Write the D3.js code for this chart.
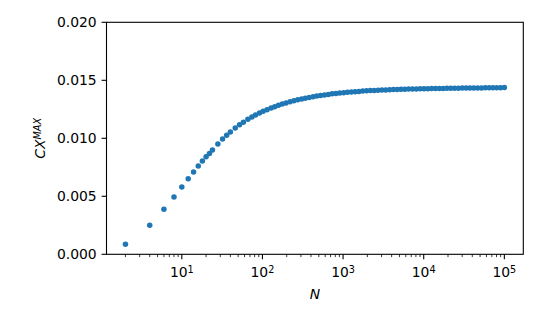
<!DOCTYPE html>
<html>
<head>
    <title></title>
    <meta charset="utf-8" />
    <script src="https://cdn.jsdelivr.net/npm/d3@7"></script>
    <style>
        body { margin: 0; background: #fff; }
        text { font-family: "DejaVu Sans", sans-serif; font-size: 13.9px; fill: #000; }
        .dot { fill: #1f77b4; }
    </style>
</head>
<body>
    <script>

        // system size N and measured CX^MAX
        var sizes = [2, 4, 6, 8, 10, 12, 14, 16, 18, 20, 22, 24, 28, 32, 36, 40, 46, 52, 58, 66,
            74, 82, 92, 102, 114, 128, 142, 158, 176, 196, 220, 246, 274, 306, 340, 380, 424, 472, 526, 588,
            656, 732, 816, 910, 1016, 1132, 1264, 1410, 1572, 1754, 1956, 2182, 2434, 2714, 3028, 3378, 3768, 4204, 4688, 5230,
            5834, 6508, 7260, 8098, 9034, 10076, 11240, 12538, 13986, 15602, 17404, 19414, 21656, 24158, 26946, 30058, 33530, 37402, 41722, 46542,
            51916, 57912, 64600, 72062, 80384, 89668, 100000];
        var cxMax = [0.00086, 0.00250, 0.00388, 0.00494, 0.00580, 0.00652, 0.00710, 0.00761, 0.00804, 0.00841, 0.00870, 0.00899, 0.00951, 0.00993, 0.01027, 0.01055, 0.01089, 0.01116, 0.01139, 0.01164,
            0.01184, 0.01201, 0.01218, 0.01233, 0.01247, 0.01262, 0.01273, 0.01285, 0.01295, 0.01305, 0.01315, 0.01324, 0.01332, 0.01339, 0.01346, 0.01352, 0.01358, 0.01364, 0.01369, 0.01374,
            0.01378, 0.01383, 0.01386, 0.01390, 0.01393, 0.01396, 0.01399, 0.01402, 0.01404, 0.01407, 0.01409, 0.01411, 0.01413, 0.01414, 0.01416, 0.01417, 0.01419, 0.01420, 0.01421, 0.01422,
            0.01423, 0.01424, 0.01425, 0.01426, 0.01427, 0.01428, 0.01428, 0.01429, 0.01429, 0.01430, 0.01430, 0.01431, 0.01431, 0.01432, 0.01432, 0.01433, 0.01433, 0.01433, 0.01434, 0.01434,
            0.01434, 0.01435, 0.01435, 0.01435, 0.01436, 0.01436, 0.01437];

        var yTicks = [0, 0.005, 0.010, 0.015, 0.020];
        var xTickExp = [1, 2, 3, 4, 5];

        var W = 545, H = 327;
        var axL = 106.5, axT = 22.3, axR = 523.3, axB = 254.3;

        var svg = d3.select('body').append('svg').attr('width', W).attr('height', H);

        // matplotlib style 5% margin in log space
        var lo = Math.log10(d3.min(sizes)), hi = Math.log10(d3.max(sizes));
        var pad = (hi - lo) * 0.05;
        var x = d3.scaleLog().domain([Math.pow(10, lo - pad), Math.pow(10, hi + pad)]).range([axL, axR]);
        var y = d3.scaleLinear().domain([0, 0.02]).range([axB, axT]);

        // points
        var data = sizes.map(function (n, i) { return { n: n, v: cxMax[i] }; });
        svg.selectAll('.dot').data(data).enter()
            .append('circle')
            .attr('class', 'dot')
            .attr('cx', function (d) { return x(d.n); })
            .attr('cy', function (d) { return y(d.v); })
            .attr('r', 2.75);

        // frame
        svg.append('rect')
            .attr('x', axL).attr('y', axT)
            .attr('width', axR - axL).attr('height', axB - axT)
            .attr('fill', 'none').attr('stroke', '#000').attr('stroke-width', 1.1);

        // y axis
        var yAxis = svg.append('g');
        yTicks.forEach(function (t) {
            yAxis.append('line')
                .attr('x1', axL - 4.9).attr('x2', axL)
                .attr('y1', y(t)).attr('y2', y(t))
                .attr('stroke', '#000').attr('stroke-width', 1.1);
            yAxis.append('text')
                .attr('x', axL - 9.8).attr('y', y(t)).attr('dy', '0.36em')
                .attr('text-anchor', 'end')
                .text(d3.format('.3f')(t));
        });

        // x axis, minor ticks
        var minor = [];
        for (var e = 0; e <= 5; e++) {
            for (var m = 2; m <= 9; m++) {
                var v = m * Math.pow(10, e);
                if (v >= x.domain()[0] && v <= x.domain()[1]) minor.push(v);
            }
        }
        svg.append('g').selectAll('line').data(minor).enter()
            .append('line')
            .attr('x1', function (d) { return x(d); }).attr('x2', function (d) { return x(d); })
            .attr('y1', axB).attr('y2', axB + 2.8)
            .attr('stroke', '#000').attr('stroke-width', 0.8);

        var xAxis = svg.append('g');
        xTickExp.forEach(function (p) {
            var px = x(Math.pow(10, p));
            xAxis.append('line')
                .attr('x1', px).attr('x2', px)
                .attr('y1', axB).attr('y2', axB + 4.9)
                .attr('stroke', '#000').attr('stroke-width', 1.1);
            var t = xAxis.append('text')
                .attr('x', px).attr('y', 277)
                .attr('text-anchor', 'middle');
            t.append('tspan').text('10');
            t.append('tspan').attr('dy', '-0.42em').style('font-size', '9.7px').text(p);
        });

        // axis labels
        svg.append('text')
            .attr('x', (axL + axR) / 2).attr('y', 299)
            .attr('text-anchor', 'middle')
            .style('font-style', 'italic')
            .text('N');

        var yl = svg.append('text')
            .attr('transform', 'translate(45,' + ((axT + axB) / 2) + ') rotate(-90)')
            .attr('text-anchor', 'middle')
            .style('font-style', 'italic');
        yl.append('tspan').text('CX');
        yl.append('tspan').attr('dy', '-0.45em').style('font-size', '9.7px').text('MAX');

    </script>
</body>
</html>
